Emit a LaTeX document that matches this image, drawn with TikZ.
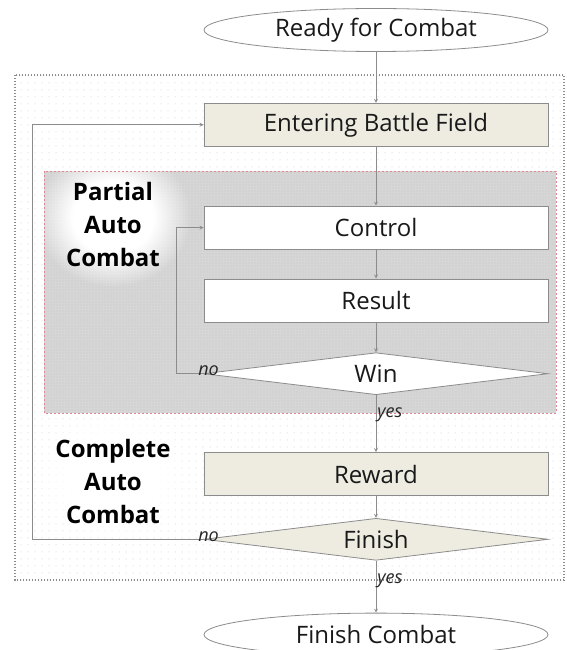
\documentclass[tikz,border=0pt]{standalone}
\usepackage{fontspec}
\setmainfont{Open Sans}
\usetikzlibrary{arrows, shapes.geometric, positioning, patterns.meta, fadings}

\definecolor{lineGray}{HTML}{8C8C8C}
\definecolor{boxTan}{HTML}{EEECE1}
\definecolor{panelGray}{HTML}{D6D6D6}
\definecolor{dashRed}{HTML}{DD8893}

% soft white halo behind the region titles
\pgfdeclareradialshading{glowshade}{\pgfpointorigin}{
    color(0bp)=(pgftransparent!0); color(13bp)=(pgftransparent!0);
    color(25bp)=(pgftransparent!100); color(50bp)=(pgftransparent!100)}
\pgfdeclarefading{glowfade}{\pgfuseshading{glowshade}}

\begin{document}
\begin{tikzpicture}[
            x = 1pt, y = -1pt, % pixel grid, y grows downwards
            > = stealth, % arrow head style
            font = \fontsize{24}{28}\selectfont,
            line width = 0.8pt
        ]

        \tikzstyle{process}=[
            draw = lineGray,
            text = black!90,
            minimum width = 344pt,
            minimum height = 43pt,
            inner sep = 0pt
        ]
        \tikzstyle{terminal}=[
            process,
            ellipse,
            fill = white
        ]
        \tikzstyle{decision}=[
            process,
            diamond,
            aspect = 8,
            minimum height = 42pt
        ]
        \tikzstyle{branch}=[font = \fontsize{18}{20}\selectfont\itshape, text = black!85, inner sep = 1pt]
        \tikzstyle{phase}=[font = \fontsize{24}{33}\selectfont\bfseries, text = black, align = center]
        \tikzstyle{flow}=[->, draw = lineGray]

        \useasboundingbox (0,0) rectangle (566,650);

        % complete auto combat region
        \fill[white] (15,75) rectangle (564,580);
        \fill[pattern = {Dots[distance = 7pt, radius = 0.5pt]}, pattern color = gray!45] (15,75) rectangle (564,580);
        \draw[lineGray, line width = 1.3pt, dash pattern = on 1.4pt off 1.6pt] (15,75) rectangle (564,580);
        \fill[white, path fading = glowfade] (113,476) ellipse (80 and 72);

        % partial auto combat region
        \fill[panelGray] (44,171) rectangle (556,413);
        \fill[pattern = {Dots[distance = 3pt, radius = 0.45pt]}, pattern color = gray!65] (44,171) rectangle (556,413);
        \begin{scope}
            \clip (44,171) rectangle (556,413);
            \fill[white, path fading = glowfade] (113,217) ellipse (78 and 70);
        \end{scope}
        \draw[dashRed, line width = 0.8pt, dash pattern = on 2pt off 2pt] (44,171) rectangle (556,413);

        \node[phase] (partial) at (113,224) {Partial\\Auto\\Combat};
        \node[phase] (complete) at (113,481) {Complete\\Auto\\Combat};

        % main flow
        \node[terminal] (ready) at (376,30) {Ready for Combat};
        \node[process, fill = boxTan] (enter) [below = 51pt of ready] {Entering Battle Field};
        \node[process, fill = white] (control) [below = 59pt of enter] {Control};
        \node[process, fill = white] (result) [below = 29pt of control] {Result};
        \node[decision, fill = white] (win) [below = 30pt of result] {Win};
        \node[process, fill = boxTan] (reward) [below = 57pt of win] {Reward};
        \node[decision, fill = boxTan] (finish) [below = 22pt of reward] {Finish};
        \node[terminal] (done) [below = 52pt of finish] {Finish Combat};

        \draw[flow] (ready) -- (enter);
        \draw[flow] (enter) -- (control);
        \draw[flow] (control) -- (result);
        \draw[flow] (result) -- (win);
        \draw[flow] (win) -- node[branch, anchor = west, pos = 0.35] (winyes) {yes} (reward);
        \draw[flow] (reward) -- (finish);
        \draw[flow] (finish) -- node[branch, anchor = west, pos = 0.38] (finishyes) {yes} (done);

        % loops back
        \draw[flow] (win.west) -- ++(-27pt,0) |- (control.west);
        \draw[flow] (finish.west) -- ++(-171pt,0) |- (enter.west);
        \node[branch, anchor = base, xshift = 5pt, yshift = -2pt] (winno) at (win.west) {no};
        \node[branch, anchor = base, xshift = 5pt, yshift = -2pt] (finishno) at (finish.west) {no};
     \end{tikzpicture}
\end{document}
